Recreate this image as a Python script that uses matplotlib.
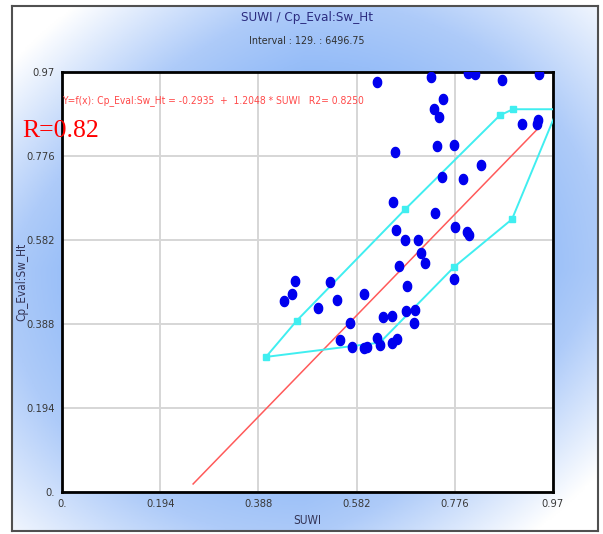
import numpy as np
import matplotlib
matplotlib.use("Agg")
import matplotlib.pyplot as plt
from matplotlib.colors import LinearSegmentedColormap

# data
suwi = [0.622, 0.729, 0.802, 0.816, 0.869, 0.942, 0.753, 0.735, 0.745, 0.909,
        0.940, 0.938, 0.658, 0.741, 0.774, 0.828, 0.751, 0.792, 0.654, 0.737,
        0.660, 0.776, 0.800, 0.804, 0.678, 0.703, 0.709, 0.717, 0.666, 0.682,
        0.460, 0.454, 0.439, 0.529, 0.506, 0.543, 0.597, 0.569, 0.634, 0.652,
        0.680, 0.697, 0.695, 0.549, 0.573, 0.597, 0.603, 0.622, 0.628, 0.652,
        0.662, 0.774]
cp = [0.947, 0.958, 0.968, 0.965, 0.951, 0.965, 0.907, 0.884, 0.866, 0.850,
      0.859, 0.850, 0.785, 0.799, 0.801, 0.755, 0.727, 0.722, 0.669, 0.644,
      0.606, 0.611, 0.600, 0.593, 0.581, 0.581, 0.551, 0.530, 0.523, 0.475,
      0.488, 0.458, 0.440, 0.484, 0.426, 0.444, 0.458, 0.391, 0.405, 0.407,
      0.419, 0.421, 0.391, 0.350, 0.336, 0.333, 0.336, 0.356, 0.340, 0.345,
      0.354, 0.491]

# fit from the equation shown
a, b = -0.2935, 1.2048
fit_x = [0.259, 0.94]

# cyan envelope
env_x = [0.403, 0.464, 0.678, 0.865, 0.891, 0.979, 0.889, 0.774, 0.628, 0.403]
env_y = [0.312, 0.396, 0.653, 0.870, 0.884, 0.884, 0.630, 0.519, 0.345, 0.312]
mark_x = [0.403, 0.464, 0.678, 0.865, 0.891, 0.889, 0.774, 0.628]
mark_y = [0.312, 0.396, 0.653, 0.870, 0.884, 0.630, 0.519, 0.345]

ticks = [0, 0.194, 0.388, 0.582, 0.776, 0.97]
tick_labels = ["0.", "0.194", "0.388", "0.582", "0.776", "0.97"]

plt.rcParams["font.family"] = ["DejaVu Sans"]
plt.rcParams["font.stretch"] = "condensed"

W, H = 603, 534
fig = plt.figure(figsize=(W / 100, H / 100), dpi=100)

# gradient frame
bg = fig.add_axes([12 / W, 3 / H, 586 / W, 525 / H])
gx, gy = np.meshgrid(np.linspace(-1, 1, 300), np.linspace(1, -1, 300))
# whiter towards top-left and bottom-right corners
d = np.sqrt((0.8 * gx) ** 2 + (0.8 * gy) ** 2 + 0.5 * np.clip(-gx * gy, 0, None))
t = np.clip((d - 0.45) / 0.75, 0, 1)
cmap = LinearSegmentedColormap.from_list("frame", ["#82b1f7", "#aecbf9", "#ffffff"])
bg.imshow(t, cmap=cmap, aspect="auto", extent=[0, 1, 0, 1], vmin=0, vmax=1)
bg.set_xlim(0, 1)
bg.set_ylim(0, 1)
bg.set_xticks([])
bg.set_yticks([])
for s in bg.spines.values():
    s.set_color("#505050")
    s.set_linewidth(1.5)

ax = fig.add_axes([62 / W, 42 / H, 491 / W, 420 / H])
ax.set_facecolor("white")
ax.set_xlim(0, 0.97)
ax.set_ylim(0, 0.97)
ax.set_xticks(ticks)
ax.set_yticks(ticks)
ax.set_xticklabels(tick_labels)
ax.set_yticklabels(tick_labels)
ax.tick_params(length=0, labelsize=8, labelcolor="#383838", pad=5)
ax.grid(True, color="#d6d6d6", linewidth=1.4)
ax.set_axisbelow(True)
for s in ax.spines.values():
    s.set_color("black")
    s.set_linewidth(2)

# tall ellipse marker for the points
th = np.linspace(0, 2 * np.pi, 40)
ell = np.column_stack([0.82 * np.cos(th), np.sin(th)])

fx = np.array(fit_x)
ax.plot(fx, a + b * fx, color="#ff5a5a", linewidth=1.1, zorder=3)
ax.plot(env_x, env_y, color="#40eef0", linewidth=1.4, zorder=3)
ax.plot(mark_x, mark_y, "s", color="#40eef0", markersize=4, zorder=3)
ax.plot(suwi, cp, marker=ell, linestyle="none", color="#0000ee",
        markersize=7.3, zorder=4)

ax.text(0.0, 0.905, "Y=f(x): Cp_Eval:Sw_Ht = -0.2935  +  1.2048 * SUWI   R2= 0.8250",
        color="#ff4a4a", fontsize=7.4, va="center", ha="left")

ax.set_xlabel("SUWI", fontsize=8.5, color="#333355")
ax.set_ylabel("Cp_Eval:Sw_Ht", fontsize=8.5, color="#333355")
ax.xaxis.set_label_coords(0.5, -22 / 420)
ax.yaxis.set_label_coords(-34 / 491, 0.5)

fig.text(307 / W, 1 - 17 / H, "SUWI / Cp_Eval:Sw_Ht", ha="center", va="center",
         fontsize=9.6, color="#2c2c80")
fig.text(307 / W, 1 - 41 / H, "Interval : 129. : 6496.75", ha="center", va="center",
         fontsize=7.7, color="#303030")
fig.text(22 / W, 1 - 131 / H, "R=0.82", ha="left", va="center", fontsize=18.5,
         color="red", family=["Liberation Serif", "DejaVu Serif"], stretch="normal")

fig.savefig("out.png", dpi=100)
